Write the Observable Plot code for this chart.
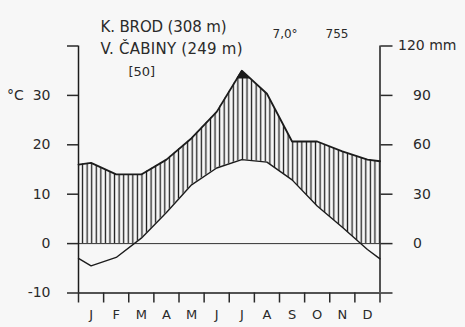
<!DOCTYPE html>
<html>
<head>
<meta charset="utf-8">
<script src="https://cdn.jsdelivr.net/npm/d3@7"></script>
<script src="https://cdn.jsdelivr.net/npm/@observablehq/plot@0.6"></script>
<style>
  html, body { margin: 0; padding: 0; background: #f7f7f7; }
  #chart { width: 465px; height: 327px; }
</style>
</head>
<body>
<div id="chart"></div>
<script>
// ---- data ----
const months = ["J", "F", "M", "A", "M", "J", "J", "A", "S", "O", "N", "D"];
const tempC = [-4.5, -2.8, 1.1, 6.3, 11.9, 15.3, 17.0, 16.5, 12.9, 7.6, 3.3, -1.2];
const precipMm = [49, 42, 42, 51, 64, 80, 105, 91, 62, 62, 56, 51];
const tempEdges = [-3.0, -3.1];      // curve value at left / right frame edge
const precipEdges = [48, 50];
const tempTicks = [-10, 0, 10, 20, 30, 40];
const precipTicks = [0, 30, 60, 90];
const precipTopTick = 120;
const stationLines = ["K. BROD (308 m)", "V. ČABINY (249 m)"];
const yearsNote = "[50]";
const annualTemp = "7,0°";
const annualPrecip = "755";
const mmPerDegree = 3;        // 10 °C  = 30 mm
const blackAbove = 100;       // mm, solid fill above this

// ---- derived table ----
const series = [
  {x: 0, t: tempEdges[0], p: precipEdges[0] / mmPerDegree},
  ...months.map((m, i) => ({x: i + 0.5, t: tempC[i], p: precipMm[i] / mmPerDegree})),
  {x: 12, t: tempEdges[1], p: precipEdges[1] / mmPerDegree}
];

const ink = "#1c1c1c";
const textInk = "#2a2a2a";
const bg = "#f7f7f7";
const font = "DejaVu Sans, sans-serif";
const mL = 78, mR = 85.5;

const plot = Plot.plot({
  width: 465,
  height: 327,
  marginLeft: mL,
  marginRight: mR,
  marginTop: 45.5,
  marginBottom: 34.5,
  style: {background: bg, color: textInk, fontFamily: font, fontSize: "14px", overflow: "visible"},
  x: {domain: [0, 12], axis: null},
  y: {domain: [-10, 40], axis: null},
  marks: [
    // solid fill above 100 mm
    Plot.areaY(series, {x: "x", y1: 0, y2: "p", fill: ink}),
    Plot.areaY(series, {x: "x", y1: -10, y2: blackAbove / mmPerDegree, fill: bg}),
    // humid period hatching
    Plot.areaY(series, {x: "x", y1: 0, y2: "p", fill: "url(#hatch)"}),
    Plot.areaY(series, {x: "x", y1: 0, y2: "t", fill: bg}),
    // zero line and bottom line
    Plot.ruleY([0], {stroke: "#333", strokeWidth: 1}),
    Plot.ruleY([-10], {stroke: ink, strokeWidth: 1.6}),
    // curves
    Plot.line(series, {x: "x", y: "p", stroke: ink, strokeWidth: 1.8}),
    Plot.line(series, {x: "x", y: "t", stroke: ink, strokeWidth: 1.4}),
    // axis lines
    Plot.ruleX([0], {y1: -10, y2: 40, stroke: ink, strokeWidth: 1.5}),
    Plot.ruleX([12], {y1: -10, y2: 40, stroke: ink, strokeWidth: 1.5}),
    // left axis (°C)
    Plot.axisY({
      anchor: "left", label: null, ticks: tempTicks, tickSize: 11, tickPadding: 17,
      strokeWidth: 1.5, fontSize: 14,
      tickFormat: d => d === 40 ? "" : d === 30 ? "°C\u00A0\u00A030" : String(d)
    }),
    // right axis (mm)
    Plot.axisY({
      anchor: "right", label: null, ticks: [-10, ...precipTicks.map(v => v / mmPerDegree)], tickSize: 12, tickPadding: 21,
      strokeWidth: 1.5, fontSize: 14,
      tickFormat: d => d < 0 ? "" : String(Math.round(d * mmPerDegree))
    }),
    Plot.axisY({
      anchor: "right", label: null, ticks: [precipTopTick / mmPerDegree], tickSize: 12, tickPadding: 6,
      strokeWidth: 1.5, fontSize: 14,
      tickFormat: () => precipTopTick + " mm"
    }),
    // month boundary ticks and labels
    Plot.axisX({
      anchor: "bottom", label: null, ticks: d3.range(13), tickSize: 10, tickFormat: () => "", strokeWidth: 1.5
    }),
    Plot.axisX({
      anchor: "bottom", label: null, ticks: months.map((m, i) => i + 0.5), tickSize: 0, tickPadding: 17,
      fontSize: 13, tickFormat: d => months[Math.floor(d)]
    }),
    // header texts
    Plot.text([stationLines[0]], {frameAnchor: "top-left", dx: 22, dy: -25, textAnchor: "start", fontSize: 15, fill: textInk}),
    Plot.text([stationLines[1]], {frameAnchor: "top-left", dx: 22, dy: -3, textAnchor: "start", fontSize: 15, fill: textInk}),
    Plot.text([yearsNote], {frameAnchor: "top-left", dx: 50, dy: 21, textAnchor: "start", fontSize: 13, fill: textInk}),
    Plot.text([annualTemp], {frameAnchor: "top-left", dx: 194, dy: -17, textAnchor: "start", fontSize: 12, fill: textInk}),
    Plot.text([annualPrecip], {frameAnchor: "top-left", dx: 247, dy: -17, textAnchor: "start", fontSize: 12, fill: textInk})
  ]
});

const svg = d3.select(plot.tagName.toLowerCase() === "svg" ? plot : plot.querySelector("svg"));

// match header widths in the reference
const widths = new Map([[stationLines[0], 126], [stationLines[1], 142]]);
svg.selectAll("text").filter(function() { return widths.has(this.textContent); })
  .each(function() {
    d3.select(this).attr("textLength", widths.get(this.textContent)).attr("lengthAdjust", "spacing");
  });

// hatch pattern: vertical lines, 5.5 per month
const x0 = mL, x12 = 465 - mR;
const step = (x12 - x0) / 66;
const pat = svg.insert("defs", ":first-child").append("pattern")
  .attr("id", "hatch").attr("patternUnits", "userSpaceOnUse")
  .attr("x", x0 - step / 2).attr("y", 0).attr("width", step).attr("height", 20);
pat.append("line").attr("x1", step / 2).attr("x2", step / 2).attr("y1", 0).attr("y2", 20)
  .attr("stroke", ink).attr("stroke-width", 1.3);

document.getElementById("chart").appendChild(plot);
</script>
</body>
</html>
